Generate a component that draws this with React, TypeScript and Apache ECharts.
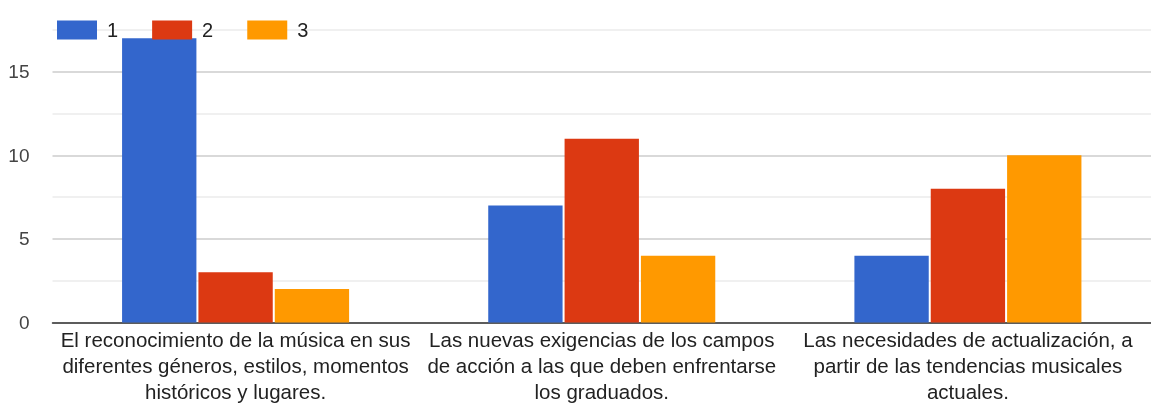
import React, { useEffect, useRef } from "react";
import * as echarts from "echarts";

const categories = [
  "El reconocimiento de la música en sus\ndiferentes géneros, estilos, momentos\nhistóricos y lugares.",
  "Las nuevas exigencias de los campos\nde acción a las que deben enfrentarse\nlos graduados.",
  "Las necesidades de actualización, a\npartir de las tendencias musicales\nactuales.",
];
const seriesNames = ["1", "2", "3"];
const values1 = [17, 7, 4];
const values2 = [3, 11, 8];
const values3 = [2, 4, 10];
const colors = ["#3366cc", "#dc3912", "#ff9900"];

export default function App() {
  const ref = useRef<HTMLDivElement>(null);
  useEffect(() => {
    document.body.style.margin = "0";
    const chart = echarts.init(ref.current!, null, { renderer: "svg", width: 1151, height: 404 });
    const font = "Arial, 'Liberation Sans', sans-serif";
    const data = [values1, values2, values3];
    chart.setOption({
      animation: false,
      color: colors,
      textStyle: { fontFamily: font },
      legend: {
        left: 52,
        top: 15,
        itemWidth: 40,
        itemHeight: 19,
        itemGap: 34,
        icon: "rect",
        textStyle: { fontSize: 20, color: "#222", fontFamily: font, padding: [0, 0, 0, 5] },
        data: seriesNames,
      },
      grid: { left: 52.5, right: -11.5, top: 30, bottom: 79.5, containLabel: false },
      xAxis: {
        type: "category",
        data: categories,
        axisLine: { lineStyle: { color: "#333", width: 1.5 } },
        axisTick: { show: false },
        axisLabel: {
          interval: 0,
          fontSize: 20.5,
          lineHeight: 26,
          color: "#222",
          margin: 3.5,
          fontFamily: font,
        },
      },
      yAxis: {
        type: "value",
        min: 0,
        max: 17.5,
        interval: 2.5,
        axisLine: { show: false },
        axisTick: { show: false },
        splitLine: { lineStyle: { color: ["#cccccc", "#ebebeb"], width: 1.5 } },
        axisLabel: {
          fontSize: 19,
          color: "#444",
          margin: 23,
          fontFamily: font,
          formatter: (v: number) => (v % 5 === 0 ? String(v) : ""),
        },
      },
      series: seriesNames.map((name, i) => ({
        name,
        type: "bar",
        data: data[i],
        barGap: "2.7%",
        barCategoryGap: "38%",
        itemStyle: { color: colors[i] },
      })),
    });
    return () => chart.dispose();
  }, []);
  return (
    <div
      ref={ref}
      style={{ position: "fixed", left: 0, top: 0, width: 1151, height: 404, overflow: "hidden" }}
    />
  );
}
